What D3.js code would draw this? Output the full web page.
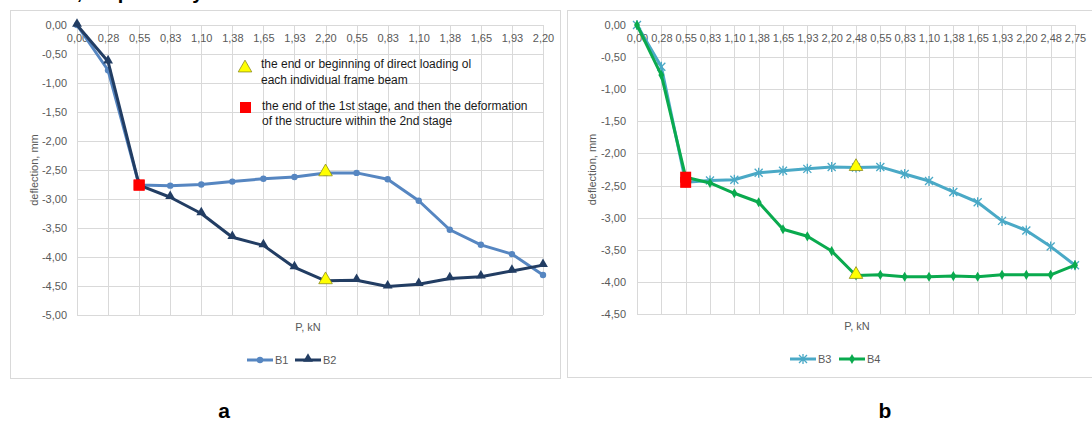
<!DOCTYPE html>
<html>
<head>
    <meta charset="UTF-8">
    <title>Deflection charts</title>
    <script src="https://d3js.org/d3.v7.min.js"></script>
    <style>
        body { margin: 0; background: #fff; }
        svg { font-family: "Liberation Sans", Arial, sans-serif; }
        .tick text { fill: #595959; font-size: 11px; }
        .grid line { stroke: #d9d9d9; stroke-width: 1; }
        .frame { fill: none; stroke: #d9d9d9; stroke-width: 1; }
        .axis-title { fill: #595959; font-size: 11px; }
        .note { fill: #1a1a1a; font-size: 12px; }
        .panel { fill: #000; font-size: 21px; font-weight: bold; text-anchor: middle; }
    </style>
</head>
<body>
<script>
// chart a
var catsA = ["0,00", "0,28", "0,55", "0,83", "1,10", "1,38", "1,65", "1,93", "2,20",
             "0,55", "0,83", "1,10", "1,38", "1,65", "1,93", "2,20"];
var b1 = [0, -0.78, -2.76, -2.77, -2.75, -2.70, -2.65, -2.62, -2.55,
          -2.55, -2.66, -3.03, -3.53, -3.79, -3.95, -4.31];
var b2 = [0, -0.63, -2.76, -2.97, -3.25, -3.66, -3.80, -4.18, -4.41,
          -4.40, -4.51, -4.47, -4.37, -4.34, -4.24, -4.14];
var yTicksA = [0, -0.5, -1, -1.5, -2, -2.5, -3, -3.5, -4, -4.5, -5];

// chart b
var catsB = ["0,00", "0,28", "0,55", "0,83", "1,10", "1,38", "1,65", "1,93", "2,20", "2,48",
             "0,55", "0,83", "1,10", "1,38", "1,65", "1,93", "2,20", "2,48", "2,75"];
var b3 = [0, -0.65, -2.45, -2.42, -2.41, -2.30, -2.27, -2.24, -2.21, -2.22,
          -2.21, -2.32, -2.43, -2.60, -2.76, -3.05, -3.20, -3.45, -3.74];
var b4 = [0, -0.78, -2.37, -2.46, -2.62, -2.76, -3.18, -3.29, -3.52, -3.90,
          -3.89, -3.92, -3.92, -3.91, -3.92, -3.89, -3.89, -3.89, -3.74];
var yTicksB = [0, -0.5, -1, -1.5, -2, -2.5, -3, -3.5, -4, -4.5];

var W = 1092, H = 421;
var svg = d3.select("body").append("svg").attr("width", W).attr("height", H);

function fmt(v) { return (v < 0 ? "-" : "") + Math.abs(v).toFixed(2).replace(".", ","); }

// cut-off caption line from the page above
svg.append("text").attr("x", 70).attr("y", -1)
    .style("font-size", "20px").style("font-weight", "bold").text("t, respectively");

function marker(g, type, color, x, y) {
    if (type === "circle") {
        g.append("circle").attr("cx", x).attr("cy", y).attr("r", 3.2).attr("fill", color);
    } else if (type === "triangle") {
        g.append("path").attr("d", d3.symbol(d3.symbolTriangle, 42)())
            .attr("transform", "translate(" + x + "," + (y - 1) + ")").attr("fill", color);
    } else if (type === "star") {
        g.append("path").attr("d", "M-4,-4L4,4M-4,4L4,-4M0,-5L0,5")
            .attr("transform", "translate(" + x + "," + y + ")")
            .attr("stroke", color).attr("stroke-width", 1.3).attr("fill", "none");
    } else if (type === "diamond") {
        g.append("path").attr("d", d3.symbol(d3.symbolDiamond, 30)())
            .attr("transform", "translate(" + x + "," + y + ")").attr("fill", color);
    }
}

function drawChart(c) {
    var g = svg.append("g");
    g.append("rect").attr("class", "frame")
        .attr("x", c.frame[0]).attr("y", c.frame[1]).attr("width", c.frame[2]).attr("height", c.frame[3]);

    var x = d3.scalePoint().domain(d3.range(c.cats.length)).range([c.x0, c.x1]);
    var y = d3.scaleLinear().domain([0, c.yMin]).range([c.yTop, c.yBottom]);

    // grid
    var grid = g.append("g").attr("class", "grid");
    grid.selectAll(".h").data(c.yTicks).enter().append("line")
        .attr("x1", c.x0).attr("x2", c.x1)
        .attr("y1", function (d) { return Math.round(y(d)) + 0.5; })
        .attr("y2", function (d) { return Math.round(y(d)) + 0.5; });
    grid.selectAll(".v").data(x.domain()).enter().append("line")
        .attr("y1", c.yTop).attr("y2", c.yBottom)
        .attr("x1", function (d) { return Math.round(x(d)) + 0.5; })
        .attr("x2", function (d) { return Math.round(x(d)) + 0.5; });

    // axes
    var xAxis = d3.axisBottom(x).tickSize(0).tickPadding(9)
        .tickFormat(function (d) { return c.cats[d]; });
    g.append("g").attr("transform", "translate(0," + y(0) + ")").call(xAxis)
        .call(function (s) { s.select(".domain").remove(); });
    var yAxis = d3.axisLeft(y).tickValues(c.yTicks).tickSize(0).tickPadding(c.x0 - c.yLabelX)
        .tickFormat(fmt);
    g.append("g").attr("transform", "translate(" + c.x0 + ",0)").call(yAxis)
        .call(function (s) { s.select(".domain").remove(); });

    g.append("text").attr("class", "axis-title")
        .attr("transform", "translate(" + c.yTitleX + "," + ((c.yTop + c.yBottom) / 2) + ") rotate(-90)")
        .attr("text-anchor", "middle").attr("dy", "0.35em").text("deflection, mm");
    g.append("text").attr("class", "axis-title")
        .attr("x", c.xTitleX).attr("y", c.yBottom + 16).attr("text-anchor", "middle").text("P, kN");

    // series
    var line = d3.line().x(function (d, i) { return x(i); }).y(function (d) { return y(d); });
    c.series.forEach(function (s) {
        g.append("path").datum(s.values).attr("d", line)
            .attr("fill", "none").attr("stroke", s.color).attr("stroke-width", 3)
            .attr("stroke-linejoin", "round");
        s.values.forEach(function (v, i) { marker(g, s.marker, s.color, x(i), y(v)); });
    });

    // special points
    c.series.forEach(function (s) {
        g.append("rect").attr("x", x(2) - 5.5).attr("y", y(s.values[2]) - 5.5)
            .attr("width", 11).attr("height", 11).attr("fill", "#ff0000");
    });
    c.series.forEach(function (s) {
        g.append("path").attr("d", d3.symbol(d3.symbolTriangle, 80)())
            .attr("transform", "translate(" + x(c.yellowAt) + "," + (y(s.values[c.yellowAt]) - 1) + ")")
            .attr("fill", "#ffff00").attr("stroke", "#8c8c1c").attr("stroke-width", 0.8);
    });

    // legend
    c.series.forEach(function (s, i) {
        var lx = c.legendX[i];
        g.append("line").attr("x1", lx).attr("x2", lx + 26).attr("y1", c.legendY).attr("y2", c.legendY)
            .attr("stroke", s.color).attr("stroke-width", 3);
        marker(g, s.marker, s.color, lx + 13, c.legendY);
        g.append("text").attr("x", lx + 28).attr("y", c.legendY).attr("dy", "0.35em")
            .style("font-size", "11px").attr("fill", "#595959").text(s.name);
    });
    return { x: x, y: y, g: g };
}

var chartA = drawChart({
    frame: [10.5, 10.5, 550, 368],
    cats: catsA, yTicks: yTicksA, yMin: -5,
    x0: 77, x1: 543, yTop: 25, yBottom: 315, yLabelX: 67,
    yTitleX: 34, xTitleX: 308,
    yellowAt: 8,
    series: [
        { name: "B1", values: b1, color: "#5686c1", marker: "circle" },
        { name: "B2", values: b2, color: "#223d63", marker: "triangle" }
    ],
    legendX: [247, 295], legendY: 360
});

var chartB = drawChart({
    frame: [567.5, 10.5, 530, 367],
    cats: catsB, yTicks: yTicksB, yMin: -4.5,
    x0: 637, x1: 1075, yTop: 25, yBottom: 314, yLabelX: 626,
    yTitleX: 592, xTitleX: 857,
    yellowAt: 9,
    series: [
        { name: "B3", values: b3, color: "#4aa9c6", marker: "star" },
        { name: "B4", values: b4, color: "#0aaa4e", marker: "diamond" }
    ],
    legendX: [790, 839], legendY: 359
});

// notes inside chart a
var note = svg.append("g");
note.append("path").attr("d", d3.symbol(d3.symbolTriangle, 80)())
    .attr("transform", "translate(245,68)")
    .attr("fill", "#ffff00").attr("stroke", "#8c8c1c").attr("stroke-width", 0.8);
note.append("text").attr("class", "note").attr("x", 261).attr("y", 68).text("the end or beginning of direct loading ol");
note.append("text").attr("class", "note").attr("x", 261).attr("y", 84).text("each individual frame beam");
note.append("rect").attr("x", 240).attr("y", 102).attr("width", 11).attr("height", 11).attr("fill", "#ff0000");
note.append("text").attr("class", "note").attr("x", 262).attr("y", 110).text("the end of the 1st stage, and then the deformation");
note.append("text").attr("class", "note").attr("x", 262).attr("y", 125).text("of the structure within the 2nd stage");

// panel letters
svg.append("text").attr("class", "panel").attr("x", 224).attr("y", 418).text("a");
svg.append("text").attr("class", "panel").attr("x", 885).attr("y", 418).text("b");
</script>
</body>
</html>
